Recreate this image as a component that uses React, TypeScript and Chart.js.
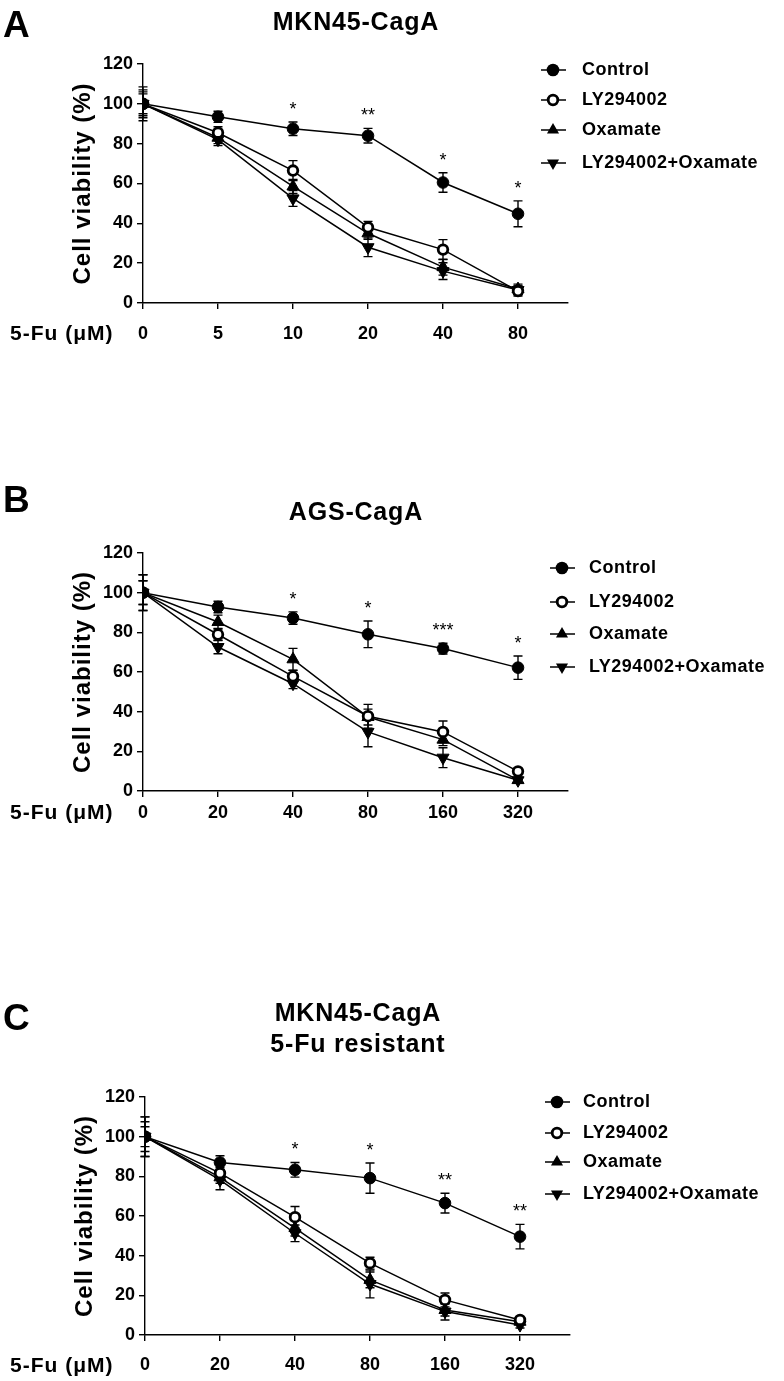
import React, { useEffect, useRef } from 'react';
import { Chart, registerables } from 'chart.js';

Chart.register(...registerables);

const FONT = '"Liberation Sans", Arial, Helvetica, sans-serif';
const W = 784;

const seriesNames = ['Control', 'LY294002', 'Oxamate', 'LY294002+Oxamate'];
const xAxisName = '5-Fu (\u03bcM)';
const yAxisName = 'Cell viability (%)';

// ---------- Panel A: MKN45-CagA ----------
const doseLabelsA = ['0', '5', '10', '20', '40', '80'];
const controlA = [100, 93.5, 87.5, 84, 60.5, 44.8];
const controlErrA = [5, 2.8, 3.4, 3.7, 4.9, 6.5];
const lyA = [100, 85.5, 66.5, 38, 26.8, 6];
const lyErrA = [8.5, 3, 5, 3, 5, 2.5];
const oxaA = [100, 83, 58.5, 35, 18, 7];
const oxaErrA = [6, 3, 3.5, 3, 4, 2.5];
const lyOxaA = [100, 82, 52.5, 28, 16, 6.5];
const lyOxaErrA = [7, 3, 4, 4.7, 4.2, 2];
const starsA = ['', '', '*', '**', '*', '*'];

// ---------- Panel B: AGS-CagA ----------
const doseLabelsB = ['0', '20', '40', '80', '160', '320'];
const controlB = [100, 92.8, 87.2, 79, 71.8, 62.2];
const controlErrB = [6, 2.9, 3.1, 6.7, 2.7, 5.9];
const lyB = [100, 78.9, 57.8, 37.7, 29.8, 9.9];
const lyErrB = [9, 3, 3, 6, 5.5, 1.5];
const oxaB = [100, 85.2, 66.4, 37.3, 25.9, 5.5];
const oxaErrB = [6, 3.5, 5.5, 4, 3, 1.5];
const lyOxaB = [100, 72.6, 54.1, 29.8, 16.8, 5.4];
const lyOxaErrB = [9, 3.4, 2.5, 7.5, 5, 1.5];
const starsB = ['', '', '*', '*', '***', '*'];

// ---------- Panel C: MKN45-CagA 5-Fu resistant ----------
const doseLabelsC = ['0', '20', '40', '80', '160', '320'];
const controlC = [100, 87, 83.3, 79.1, 66.5, 49.6];
const controlErrC = [5, 3.4, 3.7, 7.6, 5, 6.2];
const lyC = [100, 81.6, 59.4, 36.2, 17.7, 7.6];
const lyErrC = [10, 3, 5.4, 3, 3.5, 1.5];
const oxaC = [100, 79.5, 53.9, 27.8, 12.6, 6.7];
const oxaErrC = [7.5, 3, 4, 4, 3, 1.5];
const lyOxaC = [100, 78.2, 51.3, 25.7, 11.8, 5];
const lyOxaErrC = [10, 5, 4.2, 7, 4.2, 1.5];
const starsC = ['', '', '*', '*', '**', '**'];

const yTicks = [0, 20, 40, 60, 80, 100, 120];

type MarkerStyle = 'circle' | 'open' | 'up' | 'down';
const markerStyles: MarkerStyle[] = ['circle', 'open', 'up', 'down'];

type PanelCfg = {
  letter: string;
  top: number;
  height: number;
  area: { left: number; right: number; top: number; bottom: number };
  letterBase: number;
  titles: string[];
  titleBases: number[];
  xLabelBase: number;
  tickPad: number;
  yTitleX: number;
  legend: { ys: number[]; markerX: number; textX: number };
  labels: string[];
  values: number[][];
  errors: number[][];
  stars: string[];
};

const panels: PanelCfg[] = [
  {
    letter: 'A', top: 0, height: 450,
    area: { left: 143, right: 568, top: 64, bottom: 303 },
    letterBase: 37, titles: ['MKN45-CagA'], titleBases: [30],
    xLabelBase: 340, tickPad: 14, yTitleX: 90,
    legend: { ys: [70, 100, 130, 163], markerX: 553, textX: 582 },
    labels: doseLabelsA,
    values: [controlA, lyA, oxaA, lyOxaA],
    errors: [controlErrA, lyErrA, oxaErrA, lyOxaErrA],
    stars: starsA,
  },
  {
    letter: 'B', top: 450, height: 480,
    area: { left: 143, right: 568, top: 103, bottom: 341 },
    letterBase: 62, titles: ['AGS-CagA'], titleBases: [70],
    xLabelBase: 369, tickPad: 5, yTitleX: 90,
    legend: { ys: [118, 152, 184, 217], markerX: 562, textX: 589 },
    labels: doseLabelsB,
    values: [controlB, lyB, oxaB, lyOxaB],
    errors: [controlErrB, lyErrB, oxaErrB, lyOxaErrB],
    stars: starsB,
  },
  {
    letter: 'C', top: 930, height: 451,
    area: { left: 145, right: 570, top: 167, bottom: 405 },
    letterBase: 100, titles: ['MKN45-CagA', '5-Fu resistant'], titleBases: [91, 122],
    xLabelBase: 442, tickPad: 13, yTitleX: 92,
    legend: { ys: [172, 203, 232, 264], markerX: 557, textX: 583 },
    labels: doseLabelsC,
    values: [controlC, lyC, oxaC, lyOxaC],
    errors: [controlErrC, lyErrC, oxaErrC, lyOxaErrC],
    stars: starsC,
  },
];

const R_CIRCLE = 5.8;
const R_OPEN = 4.8;
const OPEN_BW = 2.8;
const R_TRI = 7;

function drawMarker(ctx: CanvasRenderingContext2D, style: MarkerStyle, x: number, y: number) {
  ctx.save();
  ctx.strokeStyle = '#000';
  ctx.fillStyle = '#000';
  if (style === 'circle') {
    ctx.beginPath();
    ctx.arc(x, y, R_CIRCLE + 0.5, 0, Math.PI * 2);
    ctx.fill();
  } else if (style === 'open') {
    ctx.beginPath();
    ctx.arc(x, y, R_OPEN, 0, Math.PI * 2);
    ctx.fillStyle = '#fff';
    ctx.fill();
    ctx.lineWidth = OPEN_BW;
    ctx.stroke();
  } else {
    const r = R_TRI;
    const dir = style === 'up' ? 1 : -1;
    ctx.beginPath();
    ctx.moveTo(x, y - dir * r);
    ctx.lineTo(x + r * Math.sin((2 * Math.PI) / 3), y + dir * r * 0.5);
    ctx.lineTo(x - r * Math.sin((2 * Math.PI) / 3), y + dir * r * 0.5);
    ctx.closePath();
    ctx.fill();
  }
  ctx.restore();
}

function buildConfig(cfg: PanelCfg): any {
  const xMax = 5 + 50 / 75;
  const padRight = W - cfg.area.right;
  const xH = 40;
  const padBottom = cfg.height - cfg.area.bottom - xH;

  const datasets = cfg.values.map((vals, k) => {
    const st = markerStyles[k];
    return {
      label: seriesNames[k],
      data: vals.map((v, i) => ({ x: i, y: v })),
      borderColor: '#000',
      borderWidth: 1.5,
      fill: false,
      tension: 0,
      pointStyle: st === 'up' || st === 'down' ? 'triangle' : 'circle',
      pointRotation: st === 'down' ? 180 : 0,
      pointRadius: st === 'circle' ? R_CIRCLE : st === 'open' ? R_OPEN : R_TRI,
      pointBackgroundColor: st === 'open' ? '#fff' : '#000',
      pointBorderColor: '#000',
      pointBorderWidth: st === 'open' ? OPEN_BW : 1,
    };
  });

  const decor = {
    id: 'decor',
    beforeDatasetsDraw(chart: any) {
      const ctx: CanvasRenderingContext2D = chart.ctx;
      const xs = chart.scales.x;
      const ys = chart.scales.y;
      ctx.save();
      ctx.strokeStyle = '#000';
      ctx.lineWidth = 1.4;
      cfg.values.forEach((vals, k) => {
        vals.forEach((v, i) => {
          const e = cfg.errors[k][i];
          const px = xs.getPixelForValue(i);
          const t = ys.getPixelForValue(v + e);
          const b = ys.getPixelForValue(v - e);
          ctx.beginPath();
          ctx.moveTo(px, t);
          ctx.lineTo(px, b);
          ctx.moveTo(px - 4.5, t);
          ctx.lineTo(px + 4.5, t);
          ctx.moveTo(px - 4.5, b);
          ctx.lineTo(px + 4.5, b);
          ctx.stroke();
        });
      });
      ctx.restore();
    },
    afterDraw(chart: any) {
      const ctx: any = chart.ctx;
      const xs = chart.scales.x;
      const ys = chart.scales.y;
      const ca = chart.chartArea;
      ctx.save();
      ctx.fillStyle = '#000';
      ctx.strokeStyle = '#000';

      // panel letter
      ctx.font = `bold 37px ${FONT}`;
      ctx.textAlign = 'left';
      ctx.textBaseline = 'alphabetic';
      ctx.fillText(cfg.letter, 3, cfg.letterBase);

      // title
      ctx.font = `bold 25px ${FONT}`;
      ctx.letterSpacing = '0.8px';
      ctx.textAlign = 'center';
      cfg.titles.forEach((t, i) => {
        ctx.fillText(t, (ca.left + ca.right) / 2 + 0.4, cfg.titleBases[i]);
      });

      // y title
      ctx.save();
      ctx.font = `bold 24px ${FONT}`;
      ctx.letterSpacing = '1px';
      ctx.translate(cfg.yTitleX, (ca.top + ca.bottom) / 2);
      ctx.rotate(-Math.PI / 2);
      ctx.textAlign = 'center';
      ctx.fillText(yAxisName, 0, 0);
      ctx.restore();

      // x label
      ctx.font = `bold 21px ${FONT}`;
      ctx.letterSpacing = '1px';
      ctx.textAlign = 'left';
      ctx.fillText(xAxisName, 10, cfg.xLabelBase);

      // legend
      ctx.font = `bold 18px ${FONT}`;
      ctx.letterSpacing = '0.5px';
      ctx.textBaseline = 'middle';
      seriesNames.forEach((name, k) => {
        const y = cfg.legend.ys[k];
        const mx = cfg.legend.markerX;
        ctx.lineWidth = 1.5;
        ctx.beginPath();
        ctx.moveTo(mx - 12, y);
        ctx.lineTo(mx + 13, y);
        ctx.stroke();
        drawMarker(ctx, markerStyles[k], mx, y);
        ctx.fillStyle = '#000';
        ctx.fillText(name, cfg.legend.textX, y);
      });

      // significance stars above control
      ctx.font = `18px ${FONT}`;
      ctx.letterSpacing = '0px';
      ctx.textAlign = 'center';
      ctx.textBaseline = 'alphabetic';
      const ctrl = cfg.values[0];
      const ctrlErr = cfg.errors[0];
      cfg.stars.forEach((s, i) => {
        if (!s) return;
        const px = xs.getPixelForValue(i);
        const py = ys.getPixelForValue(ctrl[i] + ctrlErr[i]);
        ctx.fillText(s, px, py - 7);
      });
      ctx.restore();
    },
  };

  return {
    type: 'line',
    data: { datasets },
    plugins: [decor],
    options: {
      animation: false,
      responsive: false,
      devicePixelRatio: 1,
      layout: {
        padding: { left: 0, top: cfg.area.top, right: padRight, bottom: padBottom },
      },
      plugins: {
        legend: { display: false },
        tooltip: { enabled: false },
        title: { display: false },
      },
      scales: {
        x: {
          type: 'linear',
          min: 0,
          max: xMax,
          afterBuildTicks: (s: any) => {
            s.ticks = cfg.labels.map((_, i) => ({ value: i }));
          },
          afterFit: (s: any) => {
            s.height = xH;
          },
          ticks: {
            autoSkip: false,
            maxRotation: 0,
            padding: cfg.tickPad,
            color: '#000',
            font: { family: FONT, size: 18, weight: 'bold' },
            callback: (_v: any, i: number) => cfg.labels[i],
          },
          grid: {
            drawOnChartArea: false,
            drawTicks: true,
            tickLength: 6,
            color: '#000',
            lineWidth: 1.4,
          },
          border: { display: true, color: '#000', width: 1.4 },
        },
        y: {
          type: 'linear',
          min: 0,
          max: 120,
          afterBuildTicks: (s: any) => {
            s.ticks = yTicks.map((v) => ({ value: v }));
          },
          afterFit: (s: any) => {
            s.width = cfg.area.left;
          },
          ticks: {
            padding: 4,
            color: '#000',
            font: { family: FONT, size: 18, weight: 'bold' },
          },
          grid: {
            drawOnChartArea: false,
            drawTicks: true,
            tickLength: 6,
            color: '#000',
            lineWidth: 1.4,
          },
          border: { display: true, color: '#000', width: 1.4 },
        },
      },
    },
  };
}

function Panel({ cfg }: { cfg: PanelCfg }) {
  const ref = useRef<HTMLCanvasElement>(null);
  useEffect(() => {
    if (!ref.current) return;
    const chart = new Chart(ref.current, buildConfig(cfg));
    return () => chart.destroy();
  }, [cfg]);
  return (
    <canvas
      ref={ref}
      width={W}
      height={cfg.height}
      style={{ position: 'absolute', left: 0, top: cfg.top, width: W, height: cfg.height }}
    />
  );
}

export default function App() {
  useEffect(() => {
    document.body.style.margin = '0';
    document.body.style.background = '#fff';
  }, []);
  return (
    <div style={{ position: 'relative', width: W, height: 1381, background: '#fff', overflow: 'hidden' }}>
      {panels.map((p) => (
        <Panel key={p.letter} cfg={p} />
      ))}
    </div>
  );
}
